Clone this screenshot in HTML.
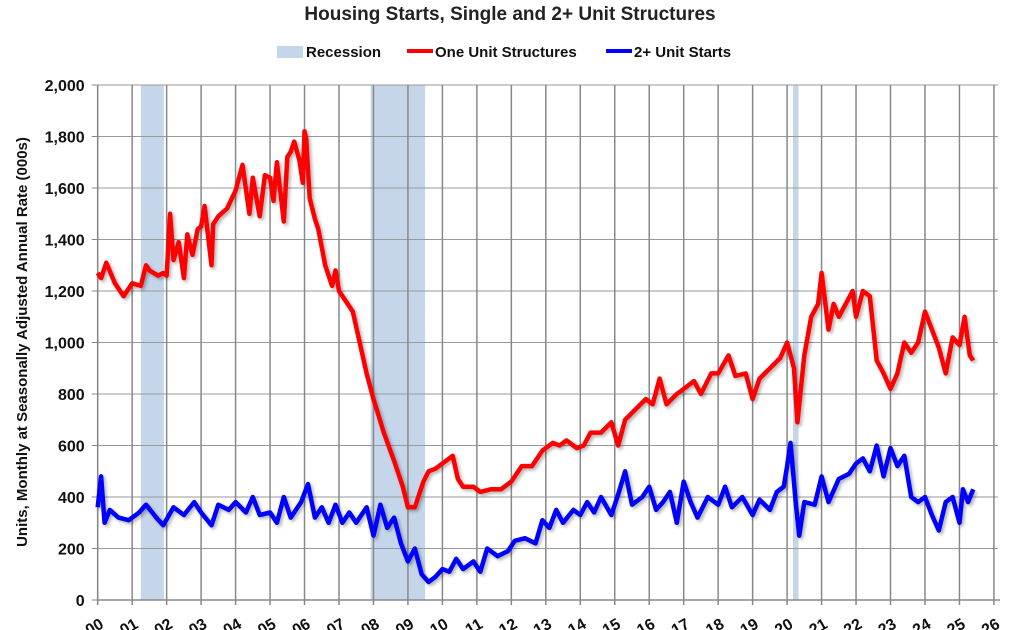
<!DOCTYPE html>
<html><head><meta charset="utf-8"><style>
body{margin:0;background:#fff;width:1019px;height:630px;overflow:hidden;font-family:"Liberation Sans",sans-serif}
svg{display:block;overflow:hidden}
</style></head><body>
<svg id="chart" width="1019" height="630" xmlns="http://www.w3.org/2000/svg">
<defs><filter id="sh" x="-5%" y="-5%" width="110%" height="110%"><feDropShadow dx="2" dy="2" stdDeviation="1.5" flood-color="#000" flood-opacity="0.3"/></filter></defs>
<text x="510" y="20" text-anchor="middle" font-size="19" font-weight="bold" fill="#222">Housing Starts, Single and 2+ Unit Structures</text>
<g font-size="15" font-weight="bold" fill="#111">
<rect x="277" y="46" width="26" height="12" fill="#c6d6ea"/>
<text x="306" y="57">Recession</text>
<line x1="407" y1="51" x2="433" y2="51" stroke="#f00" stroke-width="4"/>
<text x="435" y="57">One Unit Structures</text>
<line x1="606" y1="51" x2="632" y2="51" stroke="#00f" stroke-width="4"/>
<text x="634" y="57">2+ Unit Starts</text>
</g>
<text transform="translate(27,342) rotate(-90)" text-anchor="middle" font-size="15" font-weight="bold" fill="#111">Units, Monthly at Seasonally Adjusted Annual Rate (000s)</text>
<g id="rec"></g><g id="grid"></g><g id="axes"></g><g id="series"></g>
</svg>
<script>
const recessions=[[2001.25,2001.92],[2007.92,2009.5],[2020.17,2020.33]];
const yTicks=[0,200,400,600,800,1000,1200,1400,1600,1800,2000];
const years=[];for(let y=2000;y<=2026;y++)years.push(y);
const oneYears=[2000.0,2000.1,2000.25,2000.5,2000.75,2001.0,2001.25,2001.4,2001.5,2001.75,2001.9,2002.0,2002.1,2002.2,2002.35,2002.5,2002.6,2002.75,2002.9,2003.0,2003.1,2003.3,2003.35,2003.5,2003.75,2004.0,2004.2,2004.4,2004.5,2004.7,2004.85,2005.0,2005.1,2005.2,2005.4,2005.5,2005.6,2005.7,2005.85,2005.95,2006.0,2006.05,2006.15,2006.3,2006.4,2006.6,2006.8,2006.9,2007.0,2007.2,2007.4,2007.6,2007.8,2008.0,2008.3,2008.6,2008.85,2009.0,2009.2,2009.45,2009.6,2009.8,2010.0,2010.3,2010.45,2010.6,2010.9,2011.1,2011.4,2011.7,2012.0,2012.3,2012.6,2012.9,2013.2,2013.4,2013.6,2013.9,2014.1,2014.3,2014.6,2014.9,2015.1,2015.3,2015.6,2015.9,2016.1,2016.3,2016.5,2016.8,2017.0,2017.3,2017.5,2017.8,2018.0,2018.3,2018.5,2018.8,2019.0,2019.2,2019.5,2019.8,2020.0,2020.2,2020.3,2020.5,2020.7,2020.9,2021.0,2021.2,2021.35,2021.5,2021.7,2021.9,2022.0,2022.2,2022.4,2022.6,2022.8,2023.0,2023.2,2023.4,2023.6,2023.8,2024.0,2024.2,2024.4,2024.6,2024.8,2025.0,2025.15,2025.3,2025.4];
const oneVals=[1270,1250,1310,1230,1180,1230,1220,1300,1280,1260,1270,1260,1500,1320,1390,1250,1420,1340,1440,1450,1530,1300,1460,1490,1520,1590,1690,1500,1640,1490,1650,1640,1550,1700,1470,1720,1740,1780,1710,1620,1820,1790,1560,1480,1440,1300,1220,1280,1200,1160,1120,1000,880,780,650,540,440,360,360,460,500,510,530,560,470,440,440,420,430,430,460,520,520,580,610,600,620,590,600,650,650,690,600,700,740,780,760,860,760,800,820,850,800,880,880,950,870,880,780,860,900,940,1000,900,690,950,1100,1150,1270,1050,1150,1100,1150,1200,1100,1200,1180,930,880,820,880,1000,960,1000,1120,1050,980,880,1020,990,1100,950,930];
const twoYears=[2000.0,2000.1,2000.2,2000.35,2000.6,2000.9,2001.2,2001.4,2001.7,2001.9,2002.2,2002.5,2002.8,2003.0,2003.3,2003.5,2003.8,2004.0,2004.3,2004.5,2004.7,2005.0,2005.2,2005.4,2005.6,2005.9,2006.1,2006.3,2006.5,2006.7,2006.9,2007.1,2007.3,2007.5,2007.8,2008.0,2008.2,2008.4,2008.6,2008.8,2009.0,2009.2,2009.4,2009.6,2009.8,2010.0,2010.2,2010.4,2010.6,2010.9,2011.1,2011.3,2011.6,2011.9,2012.1,2012.4,2012.7,2012.9,2013.1,2013.3,2013.5,2013.8,2014.0,2014.2,2014.4,2014.6,2014.9,2015.1,2015.3,2015.5,2015.8,2016.0,2016.2,2016.4,2016.6,2016.8,2017.0,2017.2,2017.4,2017.7,2018.0,2018.2,2018.4,2018.7,2019.0,2019.2,2019.5,2019.7,2019.9,2020.0,2020.1,2020.25,2020.35,2020.5,2020.8,2021.0,2021.2,2021.5,2021.8,2022.0,2022.2,2022.4,2022.6,2022.8,2023.0,2023.2,2023.4,2023.6,2023.8,2024.0,2024.2,2024.4,2024.6,2024.8,2025.0,2025.1,2025.25,2025.4];
const twoVals=[360,480,300,350,320,310,340,370,320,290,360,330,380,340,290,370,350,380,340,400,330,340,300,400,320,380,450,320,360,300,370,300,340,300,360,250,370,280,320,220,150,200,100,70,90,120,110,160,120,150,110,200,170,190,230,240,220,310,280,350,300,350,330,380,340,400,330,410,500,370,400,440,350,380,420,300,460,380,320,400,370,440,360,400,330,390,350,420,440,520,610,380,250,380,370,480,380,470,490,530,550,500,600,480,590,520,560,400,380,400,330,270,380,400,300,430,380,430];
const X0=97.7,XW=34.47,Y0=600,YH=515;
const xs=v=>X0+(v-2000)*XW, ys=v=>Y0-v/2000*YH;
const NS='http://www.w3.org/2000/svg';
function mk(p,t,a){const e=document.createElementNS(NS,t);for(const k in a)e.setAttribute(k,a[k]);p.appendChild(e);return e;}
const rec=document.getElementById('rec'),grid=document.getElementById('grid'),axes=document.getElementById('axes'),ser=document.getElementById('series');
recessions.forEach(r=>{const e=mk(rec,'rect',{x:xs(r[0]),y:ys(2000),width:xs(r[1])-xs(r[0]),height:YH,fill:'#c6d6ea'});

});
yTicks.forEach(t=>{if(t>0){const l=mk(grid,'line',{x1:X0,x2:998,y1:ys(t),y2:ys(t),stroke:'#999','stroke-width':1});

}
const tx=mk(axes,'text',{x:X0-13,y:ys(t)+6,'text-anchor':'end','font-size':16,'font-weight':'bold',fill:'#111'});tx.textContent=t.toLocaleString('en-US');


mk(axes,'line',{x1:X0-6,x2:X0,y1:ys(t),y2:ys(t),stroke:'#888'});});
years.forEach(y=>{const x=xs(y);
const l=mk(grid,'line',{x1:x,x2:x,y1:ys(2000),y2:Y0+5,stroke:'#888','stroke-width':1.5});


const tx=mk(axes,'text',{transform:`translate(${x+7},627) rotate(-30)`,'text-anchor':'end','font-size':16,'font-weight':'bold',fill:'#111'});tx.textContent='Jan-'+String(y).slice(2);

});
mk(axes,'line',{x1:X0,x2:1000,y1:Y0,y2:Y0,stroke:'#888','stroke-width':1.5});
mk(axes,'line',{x1:X0,x2:X0,y1:ys(2000),y2:Y0,stroke:'#888','stroke-width':1.5});
function path(xa,va,c,n){const d=xa.map((x,i)=>(i?'L':'M')+xs(x).toFixed(1)+','+ys(va[i]).toFixed(1)).join('');
const p=mk(ser,'path',{d:d,fill:'none',stroke:c,'stroke-width':4.5,'stroke-linejoin':'round',filter:'url(#sh)'});

}
path(oneYears,oneVals,'#f00','one-unit-line');
path(twoYears,twoVals,'#00f','multi-unit-line');
</script>
</body></html>
